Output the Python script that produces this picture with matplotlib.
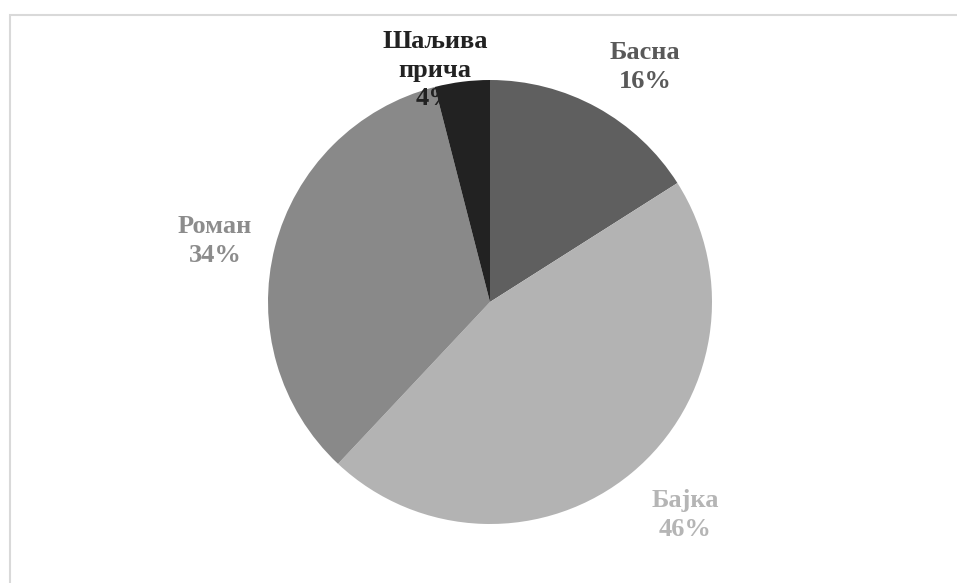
import matplotlib.pyplot as plt
from matplotlib.patches import Rectangle

# chart data
genres = ['Басна', 'Бајка', 'Роман', 'Шаљива\nприча']
shares = [16, 46, 34, 4]
slice_colors = ['#5f5f5f', '#b3b3b3', '#898989', '#222222']
label_colors = ['#595959', '#b5b5b5', '#8c8c8c', '#222222']

W, H = 957, 583
fig = plt.figure(figsize=(W / 100, H / 100), dpi=100)
ax = fig.add_axes([0, 0, 1, 1])

# light frame, only top and left edges visible
ax.add_patch(Rectangle((10, -20), W + 40, H - 15 + 20, fill=False,
                       edgecolor='#d9d9d9', linewidth=1.5, zorder=0))

cx, cy, r = 490, H - 302, 222
ax.pie(shares, colors=slice_colors, startangle=90, counterclock=False,
       center=(cx, cy), radius=r, frame=True,
       wedgeprops=dict(linewidth=0, zorder=3))
ax.set_xlim(0, W)
ax.set_ylim(0, H)
ax.set_aspect('equal')
ax.axis('off')

# label positions in pixels from top-left (label centre)
label_pos = [(645, 67), (685, 515), (215, 241), (435, 70)]
for name, val, col, (x, y) in zip(genres, shares, label_colors, label_pos):
    ax.text(x, H - y, f'{name}\n{val}%', ha='center', va='center',
            fontsize=19, fontweight='bold', family='Liberation Serif',
            color=col, linespacing=1.3, zorder=4)

fig.savefig('out.png', dpi=100, facecolor='white')
